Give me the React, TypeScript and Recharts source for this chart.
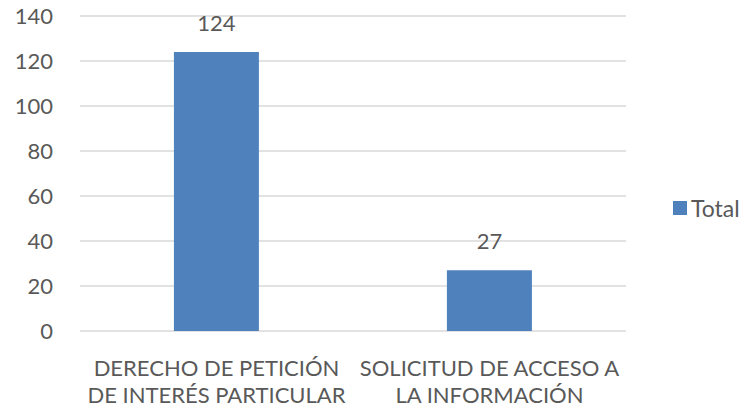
import { BarChart, Bar, XAxis, YAxis, CartesianGrid, LabelList } from 'recharts';

const categories = ['DERECHO DE PETICIÓN DE INTERÉS PARTICULAR', 'SOLICITUD DE ACCESO A LA INFORMACIÓN'];
const categoryLines = [
  ['DERECHO DE PETICIÓN', 'DE INTERÉS PARTICULAR'],
  ['SOLICITUD DE ACCESO A', 'LA INFORMACIÓN'],
];
const totals = [124, 27];
const yTicks = [0, 20, 40, 60, 80, 100, 120, 140];
const seriesName = 'Total';

const data = categories.map((name, i) => ({ name, Total: totals[i] }));

const FONT = 'Lato, "Liberation Sans", sans-serif';
const TEXT = '#595959';
const BLUE = '#4f81bd';

function CategoryTick(props: any) {
  const { x, y, payload } = props;
  const lines = categoryLines[payload.index] ?? [payload.value];
  return (
    <g transform={`translate(${x},${y})`}>
      {lines.map((line, i) => (
        <text key={i} x={0} y={37 + i * 27} textAnchor="middle" fill={TEXT} fontSize={22} fontFamily={FONT}>
          {line}
        </text>
      ))}
    </g>
  );
}

export default function App() {
  return (
    <div style={{ position: 'absolute', left: 0, top: 0, width: 749, height: 411, background: '#fff' }}>
      <BarChart
        width={749}
        height={411}
        data={data}
        margin={{ top: 16, right: 123, left: 0, bottom: 0 }}
        barCategoryGap="34.4%"
      >
        <CartesianGrid vertical={false} stroke="#d9d9d9" strokeWidth={1.5} />
        <XAxis
          dataKey="name"
          axisLine={false}
          tickLine={false}
          height={80}
          interval={0}
          tick={<CategoryTick />}
        />
        <YAxis
          domain={[0, 140]}
          ticks={yTicks}
          width={80}
          axisLine={false}
          tickLine={false}
          tickSize={0}
          tickMargin={27}
          tick={{ fill: TEXT, fontSize: 22, fontFamily: FONT }}
        />
        <Bar dataKey="Total" fill={BLUE} isAnimationActive={false}>
          <LabelList dataKey="Total" position="top" offset={21} fill={TEXT} fontSize={22} fontFamily={FONT} />
        </Bar>
      </BarChart>
      <div
        style={{
          position: 'absolute',
          left: 673,
          top: 194,
          display: 'flex',
          alignItems: 'center',
          fontFamily: FONT,
          fontSize: 23,
          color: TEXT,
          whiteSpace: 'nowrap',
        }}
      >
        <span style={{ width: 14, height: 14, background: BLUE, marginRight: 4, display: 'inline-block' }} />
        {seriesName}
      </div>
    </div>
  );
}
